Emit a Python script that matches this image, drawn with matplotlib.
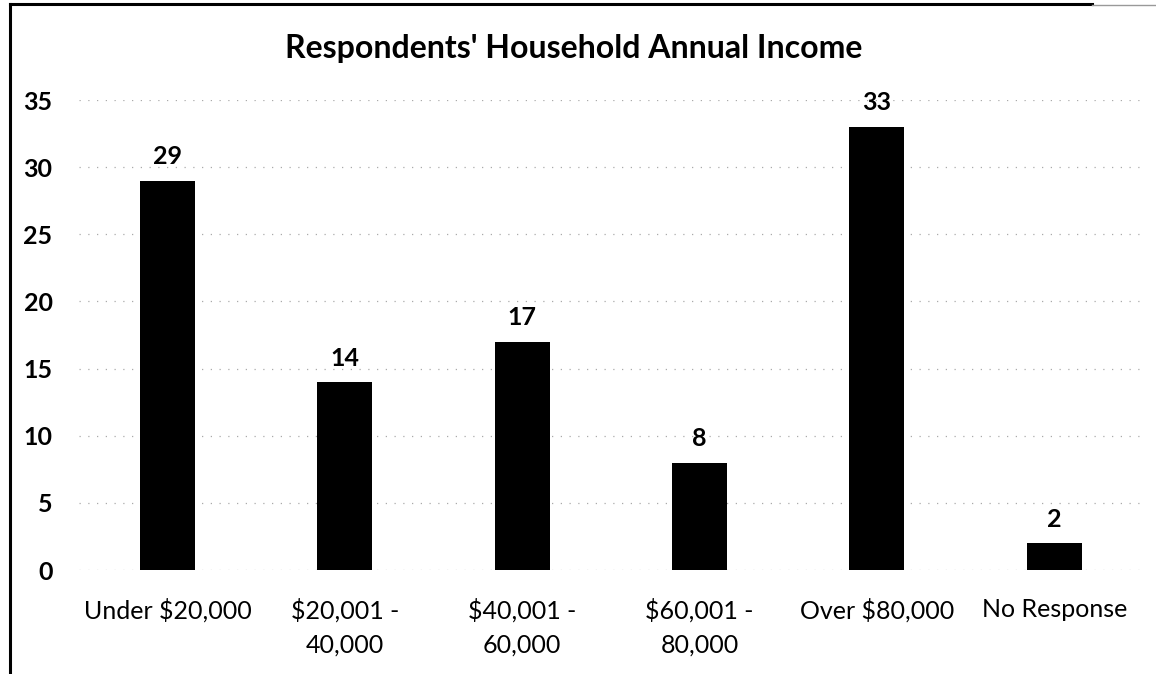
import matplotlib.pyplot as plt
from matplotlib.lines import Line2D

categories = ['Under $20,000', '$20,001 -\n40,000', '$40,001 -\n60,000',
              '$60,001 -\n80,000', 'Over $80,000', 'No Response']
counts = [29, 14, 17, 8, 33, 2]
yticks = [0, 5, 10, 15, 20, 25, 30, 35]

plt.rcParams['font.family'] = ['Lato', 'DejaVu Sans']

fig = plt.figure(figsize=(11.56, 6.74), dpi=100)
ax = fig.add_axes([0.0683, 0.1543, 0.9204, 0.6973])

x = range(len(categories))
bars = ax.bar(x, counts, width=0.31, color='black', zorder=3)

for b, v in zip(bars, counts):
    ax.annotate(str(v), (b.get_x() + b.get_width() / 2, v), xytext=(0, 9),
                textcoords='offset points', ha='center', va='bottom',
                fontsize=18, fontweight='bold')

ax.set_xlim(-0.5, len(categories) - 0.5)
ax.set_ylim(0, 35)
ax.set_yticks(yticks)
ax.set_yticklabels([str(t) for t in yticks], fontsize=18, fontweight='bold')
ax.set_xticks(list(x))
ax.set_xticklabels(categories, fontsize=18, linespacing=1.6)
ax.tick_params(axis='y', length=0, pad=19)
ax.tick_params(axis='x', length=0, pad=20)

ax.yaxis.grid(True, linestyle=(0, (1, 6)), color='#aaaaaa', linewidth=0.9, zorder=0)
for s in ax.spines.values():
    s.set_visible(False)

fig.text(0.4965, 0.928, "Respondents' Household Annual Income", ha='center', va='center',
         fontsize=23, fontweight='bold')

# scanned frame around the chart
fig.add_artist(Line2D([0.009, 0.009], [0.0, 0.994], color='black', linewidth=2.2,
                      transform=fig.transFigure))
fig.add_artist(Line2D([0.009, 0.945], [0.994, 0.994], color='black', linewidth=2.2,
                      transform=fig.transFigure))
fig.add_artist(Line2D([0.945, 1.0], [0.992, 0.992], color='#999999', linewidth=1.0,
                      transform=fig.transFigure))

plt.savefig('out.png', dpi=100)
